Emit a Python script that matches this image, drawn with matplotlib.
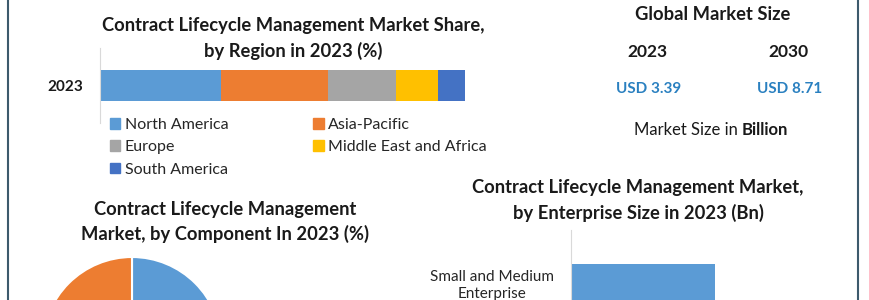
import matplotlib.pyplot as plt
from matplotlib.lines import Line2D
from matplotlib.patches import Patch

plt.rcParams['font.family'] = ['Lato', 'DejaVu Sans']

# region share 2023 (%)
regions = ["North America", "Asia-Pacific", "Europe", "Middle East and Africa", "South America"]
region_share = [33.2, 29.3, 18.6, 11.4, 7.5]
region_colors = ["#5B9BD5", "#ED7D31", "#A5A5A5", "#FFC000", "#4472C4"]

# component share 2023 (%)
components = ["Software", "Services"]
component_share = [50, 50]
component_colors = ["#5B9BD5", "#ED7D31"]

# enterprise size 2023 (Bn)
enterprise = ["Large Enterprise", "Small and Medium\nEnterprise"]
enterprise_size = [2.04, 1.35]

market_years = ["2023", "2030"]
market_values = ["USD 3.39", "USD 8.71"]

W, H = 870, 300
fig = plt.figure(figsize=(W / 100, H / 100), dpi=100)


def box(x0, y0, x1, y1):
    # pixel box (top-left origin) -> figure fraction rect
    return [x0 / W, 1 - y1 / H, (x1 - x0) / W, (y1 - y0) / H]


def ftext(x, y, s, **kw):
    fig.text(x / W, 1 - y / H, s, ha="center", va="center", **kw)


dark = "#1A1A1A"
tsize = 13.2

# --- region stacked bar ---
ax1 = fig.add_axes(box(100, 48, 465, 123))
left = 0
for name, val, col in zip(regions, region_share, region_colors):
    ax1.barh([0], [val], left=left, height=0.41, color=col, label=name)
    left += val
ax1.set_xlim(0, 100)
ax1.set_ylim(-0.5, 0.5)
ax1.set_yticks([0])
ax1.set_yticklabels(["2023"], fontsize=11, fontweight="bold", color=dark)
ax1.tick_params(axis="y", length=0, pad=12)
ax1.set_xticks([])
for s in ["top", "right", "bottom"]:
    ax1.spines[s].set_visible(False)
ax1.spines["left"].set_color("#D9D9D9")

ftext(293, 26, "Contract Lifecycle Management Market Share,", fontsize=tsize, fontweight="bold", color=dark)
ftext(293, 51, "by Region in 2023 (%)", fontsize=tsize, fontweight="bold", color=dark)

order = [0, 2, 4, 1, 3]
handles = [Patch(color=region_colors[i]) for i in order]
labels = [regions[i] for i in order]
fig.legend(handles, labels, ncol=2, loc="upper left", bbox_to_anchor=(110 / W, 1 - 118 / H),
           frameon=False, fontsize=11.5, handlelength=0.65, handleheight=0.65, handletextpad=0.28,
           columnspacing=5.3, labelspacing=0.52, borderpad=0, borderaxespad=0, labelcolor="#262626")

# --- global market size ---
ftext(713, 15, "Global Market Size", fontsize=tsize, fontweight="bold", color=dark)
for x, yr, v in zip([647, 788], market_years, market_values):
    ftext(x, 52, yr, fontsize=12.5, fontweight="bold", color=dark)
    ftext(x + 2, 89, v, fontsize=11, fontweight="bold", color="#2A80C0")
fig.text(742 / W, 1 - 130 / H, "Market Size in ", ha="right", va="center", fontsize=12, color=dark)
fig.text(742 / W, 1 - 130 / H, "Billion", ha="left", va="center", fontsize=12, fontweight="bold", color=dark)

# --- component pie ---
ftext(225, 210, "Contract Lifecycle Management", fontsize=tsize, fontweight="bold", color=dark)
ftext(225, 234, "Market, by Component In 2023 (%)", fontsize=tsize, fontweight="bold", color=dark)
r = 89.5
ax2 = fig.add_axes(box(132 - r, 257, 132 + r, 257 + 2 * r))
ax2.pie(component_share, colors=component_colors, startangle=90, counterclock=False,
        wedgeprops=dict(edgecolor="white", linewidth=1.5))
ax2.set_xlim(-1, 1)
ax2.set_ylim(-1, 1)
ax2.axis("off")

# --- enterprise size bar ---
ftext(638, 187, "Contract Lifecycle Management Market,", fontsize=tsize, fontweight="bold", color=dark)
ftext(638, 213, "by Enterprise Size in 2023 (Bn)", fontsize=tsize, fontweight="bold", color=dark)
ax3 = fig.add_axes(box(571, 230, 837, 417))
ax3.barh(range(len(enterprise)), enterprise_size, height=0.4, color="#5B9BD5")
ax3.set_xlim(0, 2.5)
ax3.set_ylim(-0.5, 1.58)
ax3.set_yticks(range(len(enterprise)))
ax3.set_yticklabels(enterprise, fontsize=11, color="#262626", ha="center", linespacing=1.3)
ax3.tick_params(axis="y", length=0, pad=57)
ax3.set_xticks([])
for s in ["top", "right", "bottom"]:
    ax3.spines[s].set_visible(False)
ax3.spines["left"].set_color("#D9D9D9")

# frame lines
fig.add_artist(Line2D([8.5 / W, 8.5 / W], [0, 1], color="#3D5A6C", lw=1.5))
fig.add_artist(Line2D([858 / W, 858 / W], [0, 1], color="#3D5A6C", lw=1.5))

fig.savefig("out.png", dpi=100, facecolor="white")
